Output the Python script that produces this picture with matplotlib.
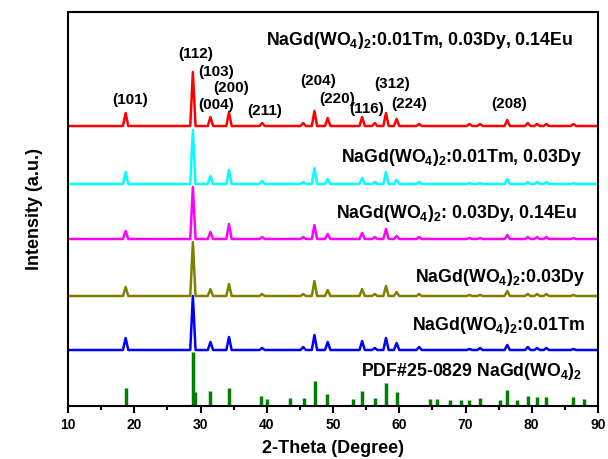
import numpy as np
import matplotlib.pyplot as plt
from matplotlib.ticker import MultipleLocator

plt.rcParams['font.family'] = 'Liberation Sans'
plt.rcParams['font.weight'] = 'bold'
plt.rcParams['mathtext.default'] = 'regular'

# Standard card PDF#25-0829 (2-theta, relative height)
pdf_pos = [18.7, 28.85, 29.1, 31.5, 34.25, 39.2, 40.0, 43.5, 45.6, 47.25, 49.15, 53.0,
           54.4, 56.35, 58.0, 59.6, 64.6, 65.7, 67.7, 69.3, 70.6, 72.2, 75.2, 76.3,
           77.8, 79.4, 80.8, 82.2, 86.3, 87.9]
pdf_int = [18, 54, 14, 15, 18, 10, 7, 8, 8, 25, 12, 7,
           15, 8, 23, 14, 7, 7, 6, 6, 6, 8, 6, 16,
           6, 10, 9, 9, 9, 7]

# Measured patterns: peak positions shared, heights per sample
peak_pos = [18.7, 28.85, 31.5, 34.3, 39.3, 45.5, 47.2, 49.2, 54.4, 56.3, 58.0, 59.6,
            63.0, 70.6, 72.2, 76.3, 79.4, 80.8, 82.2, 86.3]
h_tm = [12, 54, 8, 13, 2, 3, 15, 8, 9, 2, 12, 7, 3, 1, 2, 5, 3, 2, 2, 1]
h_dy = [9, 54, 7, 12, 2, 2, 15, 6, 7, 2, 10, 4, 2, 1, 1, 5, 2, 2, 2, 1]
h_dy_eu = [8, 52, 7, 15, 2, 2, 14, 5, 6, 2, 10, 3, 2, 1, 1, 4, 2, 2, 2, 1]
h_tm_dy = [12, 54, 8, 14, 3, 2, 16, 5, 6, 2, 12, 4, 2, 1, 1, 5, 2, 2, 2, 1]
h_tm_dy_eu = [13, 54, 9, 14, 3, 3, 15, 8, 9, 3, 13, 7, 2, 2, 2, 6, 3, 2, 2, 2]

offsets = [56, 110, 167, 222, 280]
colors = ['#0000ff', '#808000', '#ff00ff', '#00ffff', '#ff0000']
samples = [h_tm, h_dy, h_dy_eu, h_tm_dy, h_tm_dy_eu]

sample_labels = ['NaGd(WO$_4$)$_2$:0.01Tm', 'NaGd(WO$_4$)$_2$:0.03Dy',
                 'NaGd(WO$_4$)$_2$: 0.03Dy, 0.14Eu', 'NaGd(WO$_4$)$_2$:0.01Tm, 0.03Dy',
                 'NaGd(WO$_4$)$_2$:0.01Tm, 0.03Dy, 0.14Eu']
label_xy = [(88.0, 80), (88.0, 129), (86.8, 193), (87.6, 249), (86.2, 366)]

hkl = ['(101)', '(112)', '(103)', '(200)', '(004)', '(211)', '(204)', '(220)',
       '(116)', '(312)', '(224)', '(208)']
hkl_xy = [(19.4, 306), (29.2, 352), (32.4, 334), (34.6, 318), (32.4, 301), (39.7, 295),
          (47.7, 325), (50.6, 307), (55.1, 297), (58.9, 322), (61.5, 302), (76.6, 302)]


def pattern(pos, heights, base, hw=0.4):
    xs, ys = [10], [base]
    for p, h in zip(pos, heights):
        xs += [p - hw, p, p + hw]
        ys += [base, base + h, base]
    xs.append(90)
    ys.append(base)
    return xs, ys


fig = plt.figure(figsize=(6.08, 4.59), dpi=100)
ax = fig.add_axes([68 / 608, 1 - 406 / 459, 530 / 608, 394 / 459])

ax.vlines(pdf_pos, 0, pdf_int, color='#008000', linewidth=2.5)
for h, off, c in zip(samples, offsets, colors):
    xs, ys = pattern(peak_pos, h, off)
    ax.plot(xs, ys, color=c, linewidth=1.8)

for txt, (x, y) in zip(sample_labels, label_xy):
    ax.text(x, y, txt, ha='right', va='center', fontsize=12.8, fontweight='bold')
ax.text(87.6, 34, 'PDF#25-0829 NaGd(WO$_4$)$_2$', ha='right', va='center',
        fontsize=12.8, fontweight='bold')

for txt, (x, y) in zip(hkl, hkl_xy):
    ax.text(x, y, txt, ha='center', va='center', fontsize=11, fontweight='bold')

ax.set_xlim(10, 90)
ax.set_ylim(0, 394)
ax.set_yticks([])
ax.xaxis.set_major_locator(MultipleLocator(10))
ax.xaxis.set_minor_locator(MultipleLocator(5))
ax.tick_params(axis='x', which='major', direction='out', length=5, width=1.5, labelsize=10)
ax.tick_params(axis='x', which='minor', direction='out', length=3, width=1.5)
for lab in ax.get_xticklabels():
    lab.set_fontweight('bold')
for s in ax.spines.values():
    s.set_linewidth(1.5)

ax.set_xlabel('2-Theta (Degree)', fontsize=13, fontweight='bold', labelpad=6)
ax.set_ylabel('Intensity (a.u.)', fontsize=13, fontweight='bold', labelpad=18)

fig.savefig('out.png', dpi=100)
